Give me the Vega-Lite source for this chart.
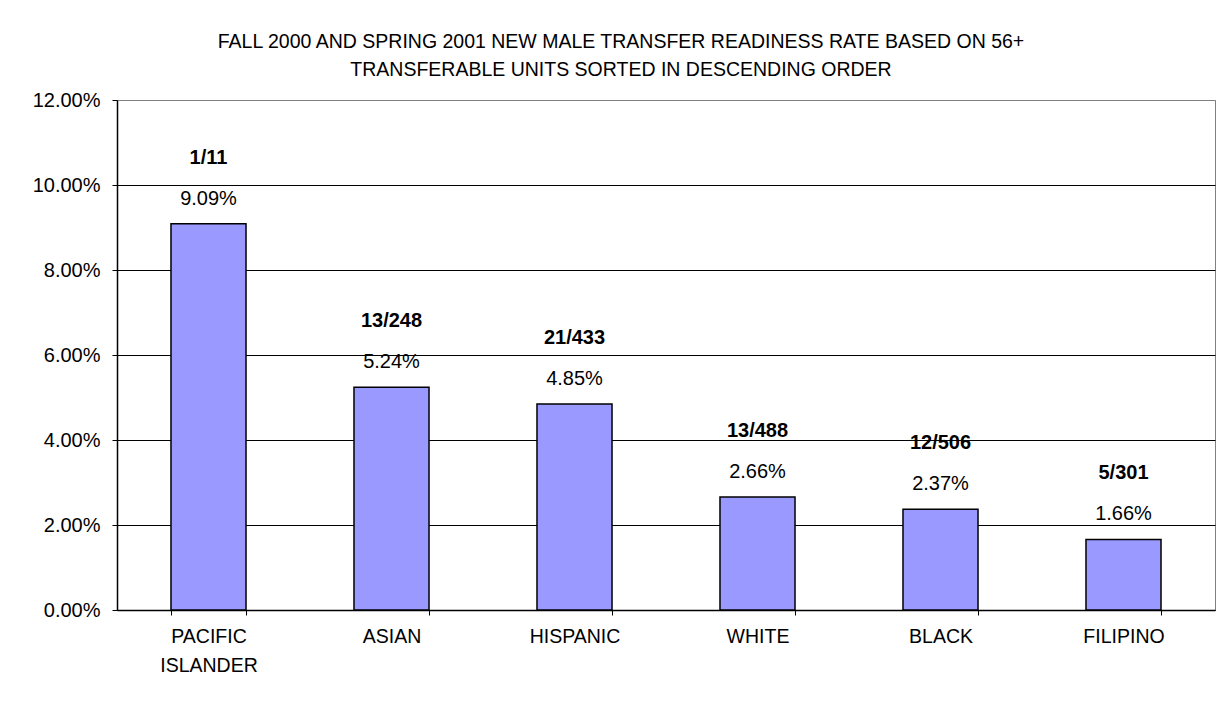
{
  "$schema": "https://vega.github.io/schema/vega-lite/v6.json",
  "width": 1098,
  "height": 510,
  "autosize": {"type": "none"},
  "padding": {"left": 117, "top": 100, "right": 12, "bottom": 99},
  "background": "white",
  "title": {
    "text": [
      "FALL 2000 AND SPRING 2001 NEW MALE TRANSFER READINESS RATE BASED ON 56+",
      "TRANSFERABLE UNITS SORTED IN DESCENDING ORDER"
    ],
    "font": "Liberation Sans",
    "fontSize": 19.5,
    "fontWeight": "normal",
    "color": "#000000",
    "anchor": "middle",
    "frame": "group",
    "dx": -45,
    "offset": -5,
    "lineHeight": 28,
    "baseline": "alphabetic"
  },
  "data": {
    "values": [
      {"group": "PACIFIC ISLANDER", "ratio": "1/11", "rate": 0.0909},
      {"group": "ASIAN", "ratio": "13/248", "rate": 0.0524},
      {"group": "HISPANIC", "ratio": "21/433", "rate": 0.0485},
      {"group": "WHITE", "ratio": "13/488", "rate": 0.0266},
      {"group": "BLACK", "ratio": "12/506", "rate": 0.0237},
      {"group": "FILIPINO", "ratio": "5/301", "rate": 0.0166}
    ]
  },
  "encoding": {
    "x": {
      "field": "group",
      "type": "nominal",
      "sort": {"field": "rate", "order": "descending"},
      "scale": {"paddingInner": 0.59, "paddingOuter": 0.295},
      "axis": {
        "title": null,
        "labelAngle": 0,
        "labelFont": "Liberation Sans",
        "labelFontSize": 19.5,
        "labelColor": "#000000",
        "labelExpr": "split(datum.label, ' ')",
        "labelLineHeight": 29,
        "labelPadding": 12,
        "tickBand": "extent",
        "tickSize": 5,
        "tickColor": "#000000",
        "domainColor": "#000000",
        "domainWidth": 1.5
      }
    },
    "y": {
      "field": "rate",
      "type": "quantitative",
      "scale": {"domain": [0, 0.12], "nice": false},
      "axis": {
        "title": null,
        "format": ".2%",
        "values": [0, 0.02, 0.04, 0.06, 0.08, 0.1, 0.12],
        "labelFont": "Liberation Sans",
        "labelFontSize": 20,
        "labelColor": "#000000",
        "labelPadding": 12,
        "tickSize": 5,
        "tickColor": "#000000",
        "domainColor": "#000000",
        "domainWidth": 1.5,
        "grid": true,
        "gridColor": {"condition": {"test": "datum.value >= 0.12", "value": "#808080"}, "value": "#000000"},
        "gridOpacity": 1,
        "gridWidth": 1
      }
    }
  },
  "layer": [
    {
      "mark": {"type": "bar", "fill": "#9999FF", "stroke": "#000000", "strokeWidth": 1.5}
    },
    {
      "mark": {"type": "text", "font": "Liberation Sans", "fontSize": 20, "color": "#000000", "baseline": "middle", "dy": -25},
      "encoding": {"text": {"field": "rate", "type": "quantitative", "format": ".2%"}}
    },
    {
      "mark": {"type": "text", "font": "Liberation Sans", "fontSize": 20, "fontWeight": "bold", "color": "#000000", "baseline": "middle", "dy": -66},
      "encoding": {"text": {"field": "ratio", "type": "nominal"}}
    }
  ],
  "config": {
    "view": {"stroke": "#808080", "strokeWidth": 1}
  }
}
